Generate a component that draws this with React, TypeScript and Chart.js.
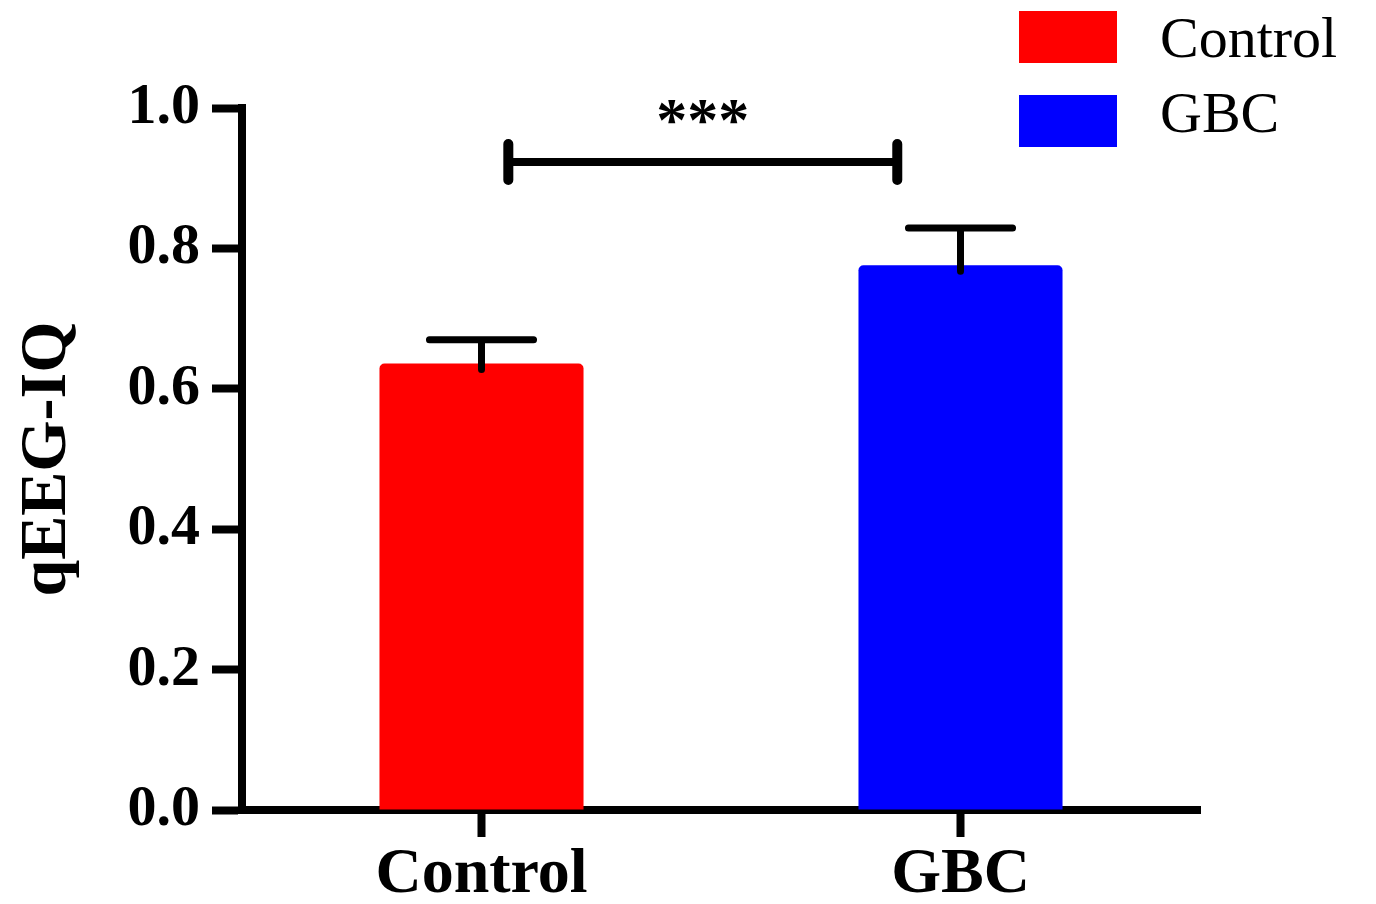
import React, { useEffect, useRef } from "react";
import { Chart, registerables } from "chart.js";

Chart.register(...registerables);

const categories = ["Control", "GBC"];
const means = [0.636, 0.776];
const errors = [0.034, 0.053];
const barColors = ["#ff0000", "#0000ff"];
const yMin = 0;
const yMax = 1.0;
const yStep = 0.2;
const sigLabel = "***";
const sigValue = 0.923;
const sigFrom = 0;
const sigTo = 1;

const FONT = '"Liberation Serif", "Times New Roman", serif';

const errorBarPlugin = {
  id: "errorBars",
  afterDatasetsDraw(chart: any) {
    const { ctx } = chart;
    const y = chart.scales.y;
    ctx.save();
    ctx.strokeStyle = "#000";
    ctx.lineWidth = 7;
    ctx.lineCap = "round";
    chart.data.datasets.forEach((ds: any, di: number) => {
      const meta = chart.getDatasetMeta(di);
      meta.data.forEach((bar: any, i: number) => {
        const v = ds.data[i];
        if (v == null) return;
        const e = errors[i];
        const x = bar.x;
        const yTop = y.getPixelForValue(v + e);
        const yBase = y.getPixelForValue(v) + 6;
        const half = bar.width * 0.255;
        ctx.beginPath();
        ctx.moveTo(x, yBase);
        ctx.lineTo(x, yTop);
        ctx.moveTo(x - half, yTop);
        ctx.lineTo(x + half, yTop);
        ctx.stroke();
      });
    });
    ctx.restore();
  },
};

const sigPlugin = {
  id: "sigBracket",
  afterDraw(chart: any) {
    const { ctx } = chart;
    const x = chart.scales.x;
    const y = chart.scales.y;
    const p0 = x.getPixelForValue(sigFrom);
    const p1 = x.getPixelForValue(sigTo);
    const span = p1 - p0;
    const xa = p0 + span * 0.056;
    const xb = p1 - span * 0.132;
    const yy = y.getPixelForValue(sigValue);
    ctx.save();
    ctx.strokeStyle = "#000";
    ctx.lineWidth = 8;
    ctx.lineCap = "butt";
    ctx.beginPath();
    ctx.moveTo(xa, yy);
    ctx.lineTo(xb, yy);
    ctx.stroke();
    ctx.lineCap = "round";
    ctx.lineWidth = 10;
    ctx.beginPath();
    ctx.moveTo(xa, yy - 18);
    ctx.lineTo(xa, yy + 18);
    ctx.moveTo(xb, yy - 18);
    ctx.lineTo(xb, yy + 18);
    ctx.stroke();
    ctx.fillStyle = "#000";
    ctx.font = `bold 62px ${FONT}`;
    ctx.textAlign = "center";
    ctx.textBaseline = "alphabetic";
    ctx.fillText(sigLabel, (xa + xb) / 2, yy - 22);
    ctx.restore();
  },
};

const legendPlugin = {
  id: "customLegend",
  afterDraw(chart: any) {
    const { ctx } = chart;
    ctx.save();
    ctx.font = `58px ${FONT}`;
    ctx.textAlign = "left";
    ctx.textBaseline = "alphabetic";
    chart.data.datasets.forEach((ds: any, i: number) => {
      const top = 11 + i * 84;
      ctx.fillStyle = ds.backgroundColor;
      ctx.fillRect(1019, top, 98, 52);
      ctx.fillStyle = "#000";
      ctx.fillText(ds.label, 1160, 57 + i * 75);
    });
    ctx.restore();
  },
};

export default function App() {
  const ref = useRef<HTMLCanvasElement | null>(null);
  useEffect(() => {
    document.body.style.margin = "0";
    const canvas = ref.current;
    if (!canvas) return;
    const datasets = categories.map((c, i) => ({
      label: c,
      data: categories.map((_, j) => (j === i ? means[i] : null)),
      backgroundColor: barColors[i],
      borderRadius: 5,
      borderSkipped: "start" as const,
      grouped: false,
      barPercentage: 0.426,
      categoryPercentage: 1,
    }));
    const chart = new Chart(canvas, {
      type: "bar",
      data: { labels: categories, datasets },
      options: {
        responsive: false,
        animation: false,
        devicePixelRatio: 1,
        layout: { padding: { top: 108, right: 176, bottom: 0, left: 0 } },
        plugins: {
          legend: { display: false },
          tooltip: { enabled: false },
        },
        scales: {
          x: {
            type: "category",
            offset: true,
            z: 1,
            afterFit: (s: any) => {
              s.height = 904 - 810;
            },
            border: { display: true, color: "#000", width: 8 },
            grid: {
              offset: false,
              drawOnChartArea: false,
              drawTicks: true,
              tickLength: 27,
              tickWidth: 8,
              tickColor: "#000",
              color: "#000",
            },
            ticks: {
              color: "#000",
              font: { family: FONT, size: 64, weight: "bold" },
              padding: 0,
            },
          },
          y: {
            min: yMin,
            max: yMax,
            z: 1,
            afterFit: (s: any) => {
              s.width = 242;
            },
            border: { display: true, color: "#000", width: 8 },
            grid: {
              drawOnChartArea: false,
              drawTicks: true,
              tickLength: 30,
              tickWidth: 8,
              tickColor: "#000",
              color: "#000",
            },
            ticks: {
              stepSize: yStep,
              color: "#000",
              padding: 12,
              font: { family: FONT, size: 58, weight: "bold" },
              callback: (v: any) => Number(v).toFixed(1),
            },
            title: {
              display: true,
              text: "qEEG-IQ",
              color: "#000",
              font: { family: FONT, size: 66, weight: "bold" },
              padding: { top: 8, bottom: 0 },
            },
          },
        },
      },
      plugins: [errorBarPlugin, sigPlugin, legendPlugin],
    });
    return () => chart.destroy();
  }, []);
  return (
    <div style={{ width: 1376, height: 904, background: "#fff" }}>
      <canvas ref={ref} width={1376} height={904} style={{ display: "block" }} />
    </div>
  );
}
